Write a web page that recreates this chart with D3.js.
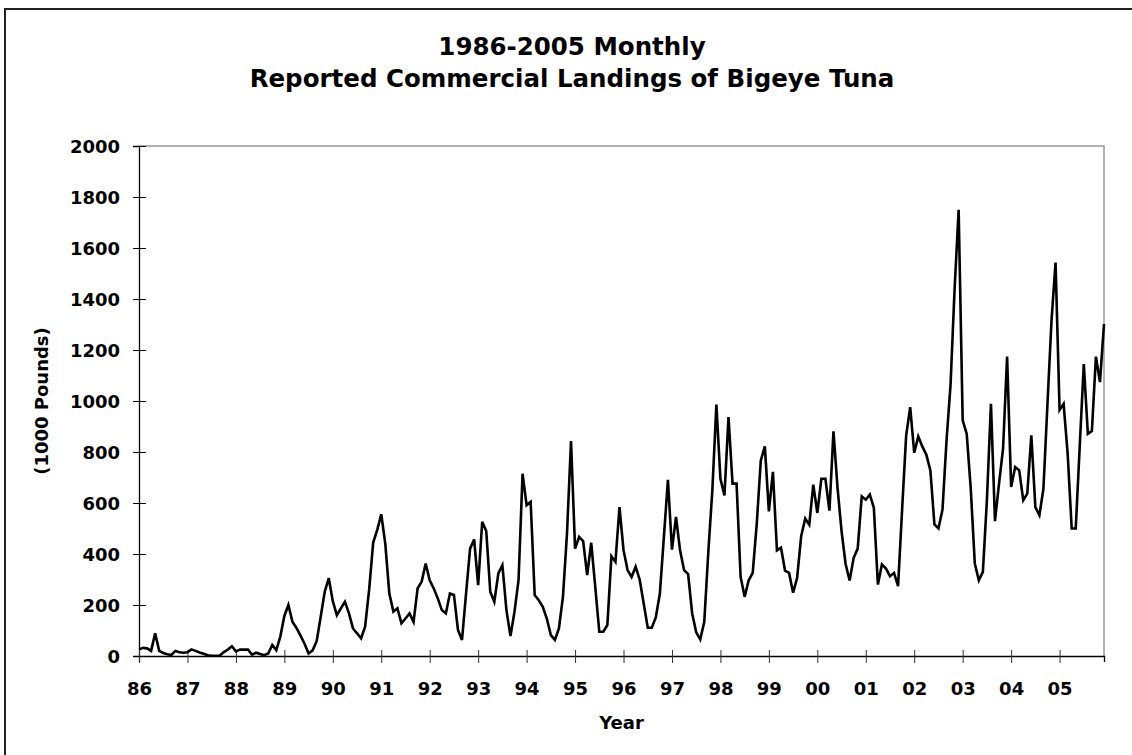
<!DOCTYPE html>
<html>
<head>
<meta charset="utf-8">
<script src="https://cdn.jsdelivr.net/npm/d3@7"></script>
<style>
  html, body { margin: 0; padding: 0; background: #fff; }
  svg { display: block; }
  text { font-family: "DejaVu Sans", Verdana, sans-serif; font-weight: bold; fill: #000; }
</style>
</head>
<body>
<svg id="chart" width="1132" height="755"></svg>
<script>
// ---------------- data ----------------
const titleLines = ["1986-2005 Monthly", "Reported Commercial Landings of Bigeye Tuna"];
const xTitle = "Year";
const yTitle = "(1000 Pounds)";
const yearLabels = ["86","87","88","89","90","91","92","93","94","95",
                    "96","97","98","99","00","01","02","03","04","05"];
const yTicks = [0, 200, 400, 600, 800, 1000, 1200, 1400, 1600, 1800, 2000];
// monthly landings (1000 lb), Jan 1986 .. Dec 2005, one row per year
const landings = [
  26, 32, 30, 20, 89, 20, 12, 7, 4, 20, 15, 13,            // 1986
  15, 26, 20, 14, 9, 3, 1, 1, 2, 15, 25, 38,               // 1987
  18, 25, 25, 25, 5, 13, 8, 3, 10, 43, 23, 76,             // 1988
  157, 200, 134, 110, 80, 48, 10, 22, 58, 154, 252, 305,   // 1989
  215, 160, 187, 213, 167, 108, 89, 69, 115, 260, 445, 495,// 1990
  556, 440, 245, 174, 187, 128, 147, 167, 134, 265, 291, 363, // 1991
  297, 265, 226, 180, 167, 245, 239, 102, 63, 245, 421, 457,  // 1992
  278, 526, 490, 252, 213, 324, 356, 180, 78, 174, 297, 715,  // 1993
  591, 604, 239, 219, 193, 147, 82, 63, 108, 232, 480, 843,   // 1994
  421, 467, 451, 317, 444, 271, 95, 95, 121, 391, 369, 584,   // 1995
  415, 337, 310, 350, 300, 206, 111, 111, 151, 245, 467, 691, // 1996
  417, 545, 415, 337, 321, 167, 93, 65, 134, 408, 650, 986,   // 1997
  695, 630, 937, 676, 676, 310, 232, 297, 326, 519, 767, 822, // 1998
  567, 722, 414, 425, 335, 326, 248, 307, 470, 539, 515, 672, // 1999
  561, 695, 695, 570, 881, 660, 490, 361, 296, 385, 421, 626, // 2000
  613, 633, 581, 280, 359, 343, 313, 326, 274, 575, 864, 976, // 2001
  797, 861, 822, 789, 728, 516, 500, 574, 845, 1065, 1440, 1750, // 2002
  924, 871, 656, 363, 297, 330, 611, 989, 529, 676, 813, 1174,   // 2003
  663, 741, 728, 611, 637, 865, 584, 552, 656, 989, 1315, 1543,  // 2004
  965, 989, 793, 500, 500, 826, 1145, 871, 882, 1174, 1074, 1302 // 2005
];

// ---------------- layout ----------------
const svg = d3.select("#chart");
const plot = { left: 139, right: 1104, top: 146, bottom: 656 };

const x = d3.scaleLinear().domain([0, landings.length - 1]).range([plot.left, plot.right]);
const y = d3.scaleLinear().domain([0, 2000]).range([plot.bottom, plot.top]);

// outer chart frame (runs off the right/bottom of the picture)
svg.append("rect")
  .attr("x", 5).attr("y", 9).attr("width", 1140).attr("height", 760)
  .attr("fill", "none").attr("stroke", "#222").attr("stroke-width", 2);

// plot area border (top & right, grey)
svg.append("path")
  .attr("d", `M${plot.left},${plot.top}H${plot.right}V${plot.bottom}`)
  .attr("fill", "none").attr("stroke", "#999").attr("stroke-width", 1.5);

// y axis
const gy = svg.append("g")
  .attr("transform", `translate(${plot.left},0)`)
  .call(d3.axisLeft(y).tickValues(yTicks).tickSizeOuter(0).tickSize(6).tickFormat(d3.format("d")));
gy.select(".domain").attr("stroke", "#000").attr("stroke-width", 1.3);
gy.selectAll(".tick line").attr("x1", 7).attr("x2", -6).attr("stroke", "#000");
gy.selectAll(".tick text")
  .attr("x", -19).attr("dy", "0.36em")
  .style("font-size", "18px").style("font-family", "'DejaVu Sans', Verdana, sans-serif")
  .style("font-weight", "bold").attr("fill", "#000");

// x axis
const yearIdx = yearLabels.map((d, i) => i * 12);
const gx = svg.append("g")
  .attr("transform", `translate(0,${plot.bottom})`)
  .call(d3.axisBottom(x).tickValues(yearIdx).tickSizeOuter(0).tickSize(6)
        .tickFormat((d, i) => yearLabels[i]));
gx.select(".domain").attr("stroke", "#000").attr("stroke-width", 1.3);
gx.selectAll(".tick line").attr("y1", -6).attr("y2", 7).attr("stroke", "#333");
gx.selectAll(".tick text")
  .attr("y", 39).attr("dy", 0)
  .style("font-size", "18px").style("font-family", "'DejaVu Sans', Verdana, sans-serif")
  .style("font-weight", "bold").attr("fill", "#000");

// the data line
svg.append("path")
  .datum(landings)
  .attr("fill", "none")
  .attr("stroke", "#000")
  .attr("stroke-width", 2.6)
  .attr("d", d3.line().x((d, i) => x(i)).y(d => y(d)));

// titles
svg.selectAll("text.title")
  .data(titleLines)
  .join("text")
  .attr("class", "title")
  .attr("x", 572)
  .attr("y", (d, i) => 55 + i * 32)
  .attr("text-anchor", "middle")
  .style("font-size", "24.5px")
  .text(d => d);

svg.append("text")
  .attr("x", (plot.left + plot.right) / 2)
  .attr("y", 729)
  .attr("text-anchor", "middle")
  .style("font-size", "18px")
  .text(xTitle);

svg.append("text")
  .attr("transform", `translate(42,${(plot.top + plot.bottom) / 2}) rotate(-90)`)
  .attr("text-anchor", "middle")
  .attr("dy", "0.36em")
  .style("font-size", "18px")
  .text(yTitle);
</script>
</body>
</html>
